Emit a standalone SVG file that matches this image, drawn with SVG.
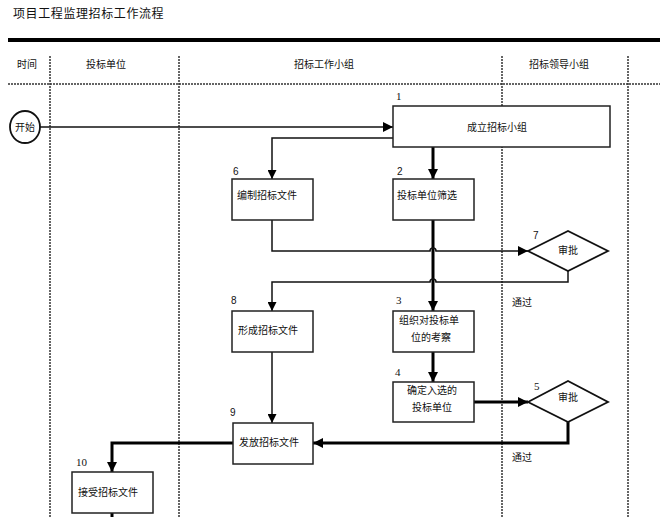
<svg xmlns="http://www.w3.org/2000/svg" width="671" height="517" viewBox="0 0 671 517">
<defs>
<marker id="ah" viewBox="0 0 10 10" refX="10" refY="5" markerWidth="10" markerHeight="10" markerUnits="userSpaceOnUse" orient="auto"><path d="M0,0 L10,5 L0,10 z" fill="#000"/></marker>
<marker id="ahs" viewBox="0 0 10 10" refX="10" refY="5" markerWidth="9" markerHeight="9" markerUnits="userSpaceOnUse" orient="auto"><path d="M0,0 L10,5 L0,10 z" fill="#000"/></marker>
</defs>
<style>
text{font-family:"Noto Sans CJK SC","Liberation Sans",sans-serif;font-size:10px;fill:#111}
.t{font-size:12px;letter-spacing:0.6px}
.num{font-family:"Liberation Sans",sans-serif;font-size:10px}
.nums{font-family:"Liberation Serif",serif;font-size:11px}
.box{fill:#fff;stroke:#222;stroke-width:1.5}
.dash{stroke:#333;stroke-width:1.5;stroke-dasharray:2 1;fill:none}
.ln{fill:none;stroke:#111;stroke-width:1.5}
.th{fill:none;stroke:#000;stroke-width:3}
.c{text-anchor:middle}
</style>
<rect width="671" height="517" fill="#fff"/>
<g id="title"><text class="t" x="13" y="18">项目工程监理招标工作流程</text></g>
<g id="lanes">
<line x1="8" y1="40" x2="660" y2="40" stroke="#000" stroke-width="4"/>
<line class="dash" x1="8" y1="84" x2="660" y2="84"/>
<line class="dash" x1="50" y1="56" x2="50" y2="517"/>
<line class="dash" x1="179" y1="56" x2="179" y2="517"/>
<line class="dash" x1="502" y1="56" x2="502" y2="517"/>
<line class="dash" x1="628" y1="56" x2="628" y2="517"/>
<text class="c" x="27" y="68">时间</text>
<text class="c" x="106" y="68">投标单位</text>
<text class="c" x="324" y="68">招标工作小组</text>
<text class="c" x="559" y="68">招标领导小组</text>
</g>
<g id="connectors">
<line class="ln" x1="40" y1="127" x2="393" y2="127" marker-end="url(#ah)" stroke-width="1.8"/>
<line class="th" x1="433" y1="147" x2="433" y2="179" marker-end="url(#ah)"/>
<path class="ln" d="M393,138 H272 V179" marker-end="url(#ahs)"/>
<path class="th" d="M433,220 V311" marker-end="url(#ah)"/>
<path class="ln" d="M272,220 V251 H430 A3,3 0 0 1 436,251 H528" marker-end="url(#ah)" stroke-width="1.8"/>
<path class="ln" d="M568,271 V282 H436 A3,3 0 0 0 430,282 H272 V311" marker-end="url(#ahs)" stroke-width="1.8"/>
<line class="th" x1="433" y1="352" x2="433" y2="382" marker-end="url(#ah)"/>
<line class="th" x1="474" y1="402" x2="528" y2="402" marker-end="url(#ah)"/>
<line class="ln" x1="272" y1="352" x2="272" y2="423" marker-end="url(#ahs)"/>
<path class="th" d="M568,422 V443 H313" marker-end="url(#ah)"/>
<path class="th" d="M233,443 H112 V472" marker-end="url(#ah)"/>
<line class="th" x1="112" y1="513" x2="112" y2="517"/>
<text x="512" y="306">通过</text>
<text x="512" y="461">通过</text>
</g>
<g id="start">
<ellipse cx="25" cy="127" rx="15" ry="16" fill="#fff" stroke="#111" stroke-width="1.8"/>
<text class="c" x="25" y="131">开始</text>
</g>
<g id="n1">
<rect class="box" x="393" y="106" width="217" height="41"/>
<text class="nums" x="396" y="100">1</text>
<text class="c" x="497" y="131">成立招标小组</text>
</g>
<g id="n2">
<rect class="box" x="393" y="179" width="81" height="41"/>
<text class="num" x="397" y="175">2</text>
<text x="397" y="199">投标单位筛选</text>
</g>
<g id="n6">
<rect class="box" x="232" y="179" width="81" height="41"/>
<text class="num" x="233" y="175">6</text>
<text x="237" y="199">编制招标文件</text>
</g>
<g id="n7">
<polygon points="528,251 568,231 608,251 568,271" fill="#fff" stroke="#111" stroke-width="1.8"/>
<text class="num" x="533" y="239">7</text>
<text class="c" x="568" y="254">审批</text>
</g>
<g id="n8">
<rect class="box" x="232" y="311" width="81" height="41"/>
<text class="num" x="231" y="304">8</text>
<text x="238" y="334">形成招标文件</text>
</g>
<g id="n3">
<rect class="box" x="393" y="311" width="81" height="41"/>
<text class="nums" x="396" y="304">3</text>
<text x="399" y="324">组织对投标单</text>
<text x="411" y="341">位的考察</text>
</g>
<g id="n4">
<rect class="box" x="393" y="382" width="81" height="40"/>
<text class="nums" x="395" y="376">4</text>
<text class="c" x="432" y="394">确定入选的</text>
<text class="c" x="432" y="411">投标单位</text>
</g>
<g id="n5">
<polygon points="528,402 568,381 608,402 568,422" fill="#fff" stroke="#111" stroke-width="1.8"/>
<text class="nums" x="534" y="390">5</text>
<text class="c" x="568" y="401">审批</text>
</g>
<g id="n9">
<rect class="box" x="233" y="423" width="80" height="41"/>
<text class="num" x="230" y="416">9</text>
<text x="239" y="446">发放招标文件</text>
</g>
<g id="n10">
<rect class="box" x="72" y="472" width="81" height="41"/>
<text class="nums" x="76" y="466">10</text>
<text x="78" y="496">接受招标文件</text>
</g>
</svg>
